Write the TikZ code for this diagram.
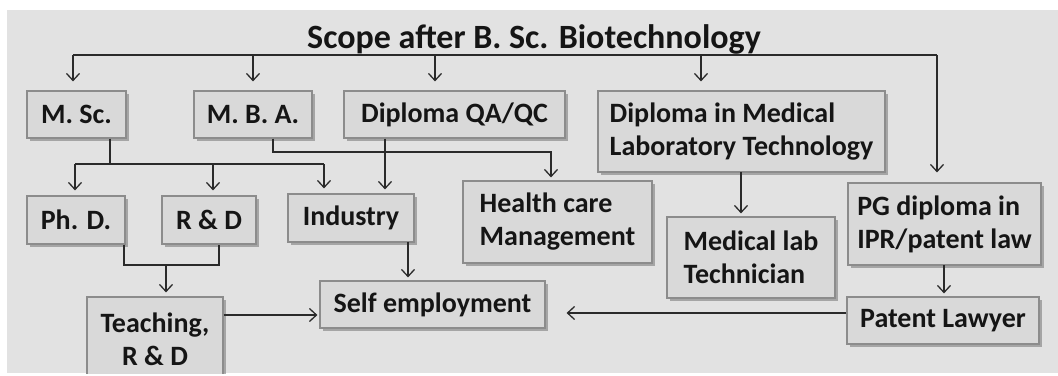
\documentclass[tikz,border=0pt]{standalone}
\usepackage{fontspec}
\setmainfont{Carlito}
\usetikzlibrary{arrows.meta,shadows}
\definecolor{bgc}{HTML}{E2E2E2}
\definecolor{boxfill}{HTML}{D9D9D9}
\definecolor{boxline}{HTML}{8C8C8C}
\definecolor{linec}{HTML}{2A2A2A}
\definecolor{txt}{HTML}{151515}
\tikzset{
  box/.style={draw=boxline, line width=1.2pt, fill=boxfill, text=txt, inner sep=0pt,
    font=\fontsize{28}{33}\selectfont\bfseries,
    drop shadow={shadow xshift=2.5pt, shadow yshift=-3pt, fill=black!55, opacity=0.55}},
  conn/.style={draw=linec, line width=1.3pt},
  arr/.style={conn, -{Straight Barb[length=7pt,width=13pt,line width=1.3pt]}},
}
\begin{document}
\begin{tikzpicture}[x=1pt,y=-1pt]
\useasboundingbox (0,0) rectangle (1058,375);
\fill[white] (0,0) rectangle (1058,375);
\begin{scope}
\clip (7,10) rectangle (1058,373);
\fill[bgc] (7,10) rectangle (1058,373);
% title
\node[text=txt, font=\fontsize{34}{38}\selectfont\bfseries, anchor=base] (title) at (534,48) {Scope after B. Sc. Biotechnology};
% boxes
\node[box, minimum width=99pt, minimum height=47pt] (msc) at (76.5,114.5) {M. Sc.};
\node[box, minimum width=118pt, minimum height=47pt] (mba) at (253,114.5) {M. B. A.};
\node[box, minimum width=221pt, minimum height=47pt] (qa) at (454.5,114.5) {Diploma QA/QC};
\node[box, minimum width=287pt, minimum height=81pt, align=left] (dml) at (741.5,131.5) {Diploma in Medical\\Laboratory Technology};
\node[box, minimum width=98pt, minimum height=48pt] (phd) at (76,220) {Ph. D.};
\node[box, minimum width=94pt, minimum height=48pt] (rd) at (209,220) {R \& D};
\node[box, minimum width=126pt, minimum height=48pt] (ind) at (351,218) {Industry};
\node[box, minimum width=189pt, minimum height=82pt, align=left] (hcm) at (557.5,222) {Health care\\Management};
\node[box, minimum width=168pt, minimum height=81pt, align=left] (mlt) at (751,257.5) {Medical lab\\Technician};
\node[box, minimum width=193pt, minimum height=82pt, align=left] (pg) at (944.5,224) {PG diploma in\\IPR/patent law};
\node[box, minimum width=192pt, minimum height=47pt] (pl) at (943,320.5) {Patent Lawyer};
\node[box, minimum width=225pt, minimum height=47pt] (self) at (432.5,304.5) {Self employment};
\node[box, minimum width=136pt, minimum height=84pt, align=center] (teach) at (155,339) {Teaching,\\R \& D};
% top distribution line
\coordinate (tL) at (73,55);
\coordinate (tB) at (253,55);
\coordinate (tQ) at (435,55);
\coordinate (tD) at (701,55);
\coordinate (tR) at (937,55);
\draw[conn] (tL) -- (tR);
\draw[arr, shorten >=9pt] (tL) -- (tL |- msc.north);
\draw[arr, shorten >=9pt] (tB) -- (tB |- mba.north);
\draw[arr, shorten >=9pt] (tQ) -- (tQ |- qa.north);
\draw[arr, shorten >=9pt] (tD) -- (tD |- dml.north);
\draw[arr, shorten >=10pt] (tR) -- (tR |- pg.north);
% M.Sc. branches
\coordinate (m1) at (110,164);
\coordinate (m2) at (75,164);
\coordinate (m3) at (213,164);
\coordinate (m4) at (324,164);
\draw[conn] (msc.south -| m1) -- (m1);
\draw[conn] (m2) -- (m4);
\draw[arr, shorten >=5pt] (m2) -- (m2 |- phd.north);
\draw[arr, shorten >=5pt] (m3) -- (m3 |- rd.north);
\draw[arr, shorten >=5pt] (m4) -- (m4 |- ind.north);
% M.B.A. to health care
\coordinate (b1) at (273,152);
\coordinate (b2) at (551,152);
\draw[arr, shorten >=3pt] (mba.south -| b1) -- (b1) -- (b2) -- (b2 |- hcm.north);
% QA/QC to industry
\coordinate (q1) at (385,138);
\draw[arr, shorten >=4pt] (qa.south -| q1) -- (q1 |- ind.north);
% PhD & R&D to teaching
\coordinate (p1) at (124,265);
\coordinate (p2) at (219,265);
\coordinate (p3) at (166,265);
\draw[conn] (phd.south -| p1) -- (p1) -- (p2) -- (rd.south -| p2);
\draw[arr, shorten >=4pt] (p3) -- (p3 |- teach.north);
% industry to self employment
\coordinate (i1) at (408,242);
\draw[arr, shorten >=3pt] (i1) -- (i1 |- self.north);
% teaching to self employment
\coordinate (s1) at (0,315);
\draw[arr, shorten >=2pt] (teach.east |- s1) -- (self.west |- s1);
% DML to technician
\coordinate (d1) at (741,172);
\draw[arr, shorten >=3pt] (d1) -- (d1 |- mlt.north);
% PG to patent lawyer
\coordinate (g1) at (944,265);
\draw[arr, shorten >=3pt] (g1) -- (g1 |- pl.north);
% patent lawyer to self employment
\coordinate (s2) at (0,313);
\draw[arr, shorten >=21pt] (pl.west |- s2) -- (self.east |- s2);
\end{scope}
\end{tikzpicture}
\end{document}
